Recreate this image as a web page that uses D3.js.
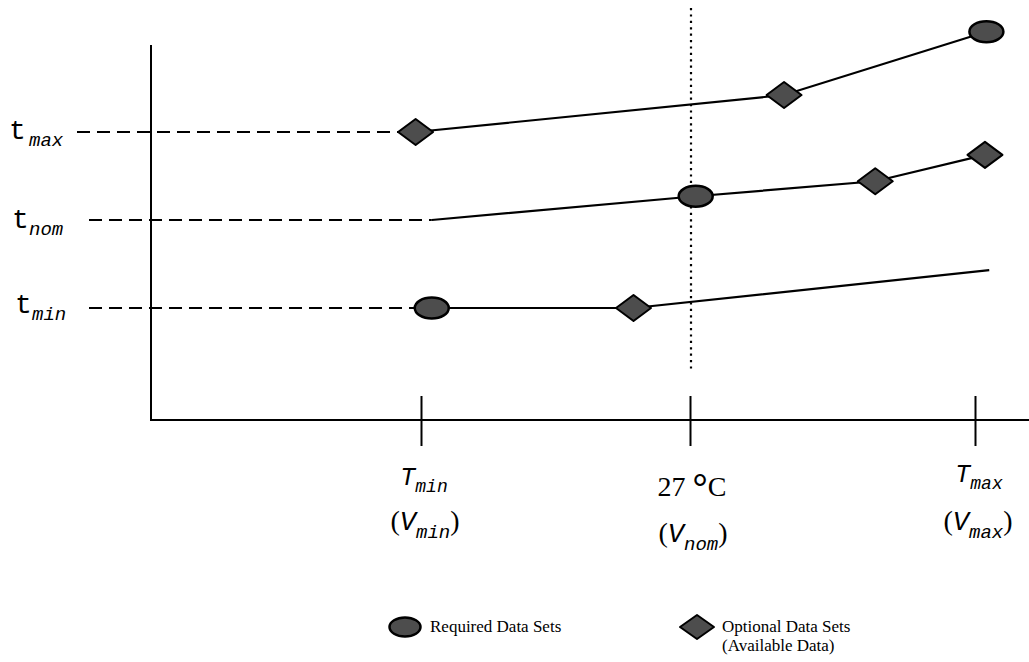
<!DOCTYPE html>
<html><head><meta charset="utf-8">
<script src="https://cdn.jsdelivr.net/npm/d3@7"></script>
<style>body{margin:0;background:#fff;}svg{display:block;}</style>
</head><body>
<svg id="c" width="1029" height="662"></svg>
<script>
// ---- data ----
const xTickValues = [0, 1, 2];            // Tmin, 27 °C, Tmax
const yLevelValues = [2, 1, 0];           // t_max, t_nom, t_min
const yLevelSubs = ["max", "nom", "min"];
const xTickMain = ["T", "27 °C", "T"];
const xTickSub = ["min", "", "max"];
const xTickSecond = ["min", "nom", "max"];

const topX = [-0.02, 1.33, 2.04];
const topY = [2, 2.42, 3.14];
const topMarks = ["diamond", "diamond", "ellipse"];

const midX = [0.04, 1.02, 1.65, 2.035];
const midY = [1, 1.27, 1.44, 1.74];
const midMarks = ["none", "ellipse", "diamond", "diamond"];

const lowX = [0.04, 0.79, 2.05];
const lowY = [0, 0, 0.43];
const lowMarks = ["ellipse", "diamond", "none"];

const legendLabels = ["Required Data Sets", "Optional Data Sets", "(Available Data)"];

// ---- scales ----
const x = d3.scaleLinear().domain([0, 1, 2]).range([421, 690, 975]);
const y = d3.scaleLinear().domain([0, 2]).range([308, 132]);

const svg = d3.select("#c");
const ink = "#000";
const markFill = "#4d4d4d";
const mono = "Liberation Mono, Courier New, monospace";
const serif = "Liberation Serif, Times New Roman, serif";

// axes frame
svg.append("line").attr("x1", 151).attr("x2", 151).attr("y1", 45).attr("y2", 421)
  .attr("stroke", ink).attr("stroke-width", 2);
svg.append("line").attr("x1", 150).attr("x2", 1029).attr("y1", 420).attr("y2", 420)
  .attr("stroke", ink).attr("stroke-width", 2);

// x ticks via axis
const xa = svg.append("g").attr("transform", "translate(0,420)")
  .call(d3.axisBottom(x).tickValues(xTickValues).tickSize(26).tickFormat(""));
xa.select(".domain").remove();
xa.selectAll(".tick line").attr("y1", -24).attr("stroke", ink).attr("stroke-width", 2);

// nominal temperature dotted line
svg.append("line").attr("x1", x(1)+1).attr("x2", x(1)+1).attr("y1", 8).attr("y2", 370)
  .attr("stroke", ink).attr("stroke-width", 2.2).attr("stroke-dasharray", "2.2,4.2");

// y level dashed lines + labels
const dashStart = [77, 89, 89];
const dashEnd = [x(topX[0]), x(midX[0]), x(lowX[0])];
const tX = [9, 12, 15];
const subX = [29, 29, 32];
const tDy = [7, 8, 5];
yLevelValues.forEach((v, i) => {
  svg.append("line").attr("x1", dashStart[i]).attr("x2", dashEnd[i])
    .attr("y1", y(v)).attr("y2", y(v))
    .attr("stroke", ink).attr("stroke-width", 2).attr("stroke-dasharray", "13,7");
  svg.append("text").attr("x", tX[i]).attr("y", y(v) + tDy[i])
    .attr("font-family", mono).attr("font-size", 28).attr("font-weight", 300)
    .attr("fill", ink).text("t");
  svg.append("text").attr("x", subX[i]).attr("y", y(v) + tDy[i] + 7)
    .attr("font-family", mono)
    .attr("font-style", "italic").attr("font-size", 19).attr("fill", ink).text(yLevelSubs[i]);
});

// x tick labels
xTickValues.forEach((v, i) => {
  const cx = x(v);
  if (xTickMain[i] === "T") {
    const g = svg.append("text").attr("x", cx + (i === 2 ? 4 : 3)).attr("y", i === 2 ? 482 : 485)
      .attr("text-anchor", "middle").attr("fill", ink)
      .attr("font-family", mono).attr("font-style", "italic");
    g.append("tspan").attr("font-size", 25).text("T");
    g.append("tspan").attr("font-size", 18).attr("dy", 7).text(xTickSub[i]);
  } else {
    const parts = xTickMain[i].split("°");
    const g = svg.append("text").attr("x", cx + 2).attr("y", 496).attr("text-anchor", "middle")
      .attr("font-family", serif).attr("font-size", 28).attr("fill", ink);
    g.append("tspan").text(parts[0]);
    g.append("tspan").attr("font-size", 38).attr("font-weight", "bold").attr("dy", 4).text("°");
    g.append("tspan").attr("dy", -4).text(parts[1]);
  }
  const py = [530, 542, 530][i];
  const t2 = svg.append("text").attr("x", cx + [4, 3, 3][i]).attr("y", py).attr("text-anchor", "middle")
    .attr("fill", ink).attr("font-family", mono);
  t2.append("tspan").attr("font-size", 28).attr("font-family", serif).text("(");
  t2.append("tspan").attr("font-size", 27).attr("font-style", "italic").text("V");
  t2.append("tspan").attr("font-size", 19).attr("font-style", "italic").attr("dy", 8).text(xTickSecond[i]);
  t2.append("tspan").attr("font-size", 28).attr("font-family", serif).attr("dy", -8).text(")");
});

// series
const line = d3.line().x(d => x(d[0])).y(d => y(d[1]));
const series = [[topX, topY, topMarks], [midX, midY, midMarks], [lowX, lowY, lowMarks]];
function drawMark(g, kind, cx, cy, rx, ry) {
  if (kind === "ellipse") {
    g.append("ellipse").attr("cx", cx).attr("cy", cy).attr("rx", rx).attr("ry", ry)
      .attr("fill", markFill).attr("stroke", ink).attr("stroke-width", 2.5);
  } else if (kind === "diamond") {
    g.append("path").attr("d", `M${cx-rx},${cy}L${cx},${cy-ry}L${cx+rx},${cy}L${cx},${cy+ry}Z`)
      .attr("fill", markFill).attr("stroke", ink).attr("stroke-width", 2).attr("stroke-linejoin", "round");
  }
}
series.forEach(([xs, ys, ms]) => {
  const pts = xs.map((v, i) => [v, ys[i]]);
  svg.append("path").attr("d", line(pts)).attr("fill", "none").attr("stroke", ink).attr("stroke-width", 2.2);
});
series.forEach(([xs, ys, ms]) => {
  xs.forEach((v, i) => {
    if (ms[i] === "ellipse") drawMark(svg, "ellipse", x(v), y(ys[i]), 17, 10.5);
    else if (ms[i] === "diamond") drawMark(svg, "diamond", x(v), y(ys[i]), 17.5, 13);
  });
});

// legend
drawMark(svg, "ellipse", 405, 627, 15.5, 9.5);
drawMark(svg, "diamond", 697, 627, 17, 12);
svg.append("text").attr("x", 430).attr("y", 632).attr("font-family", serif).attr("font-size", 17).attr("fill", ink).text(legendLabels[0]);
svg.append("text").attr("x", 722).attr("y", 632).attr("font-family", serif).attr("font-size", 17).attr("fill", ink).text(legendLabels[1]);
svg.append("text").attr("x", 722).attr("y", 651).attr("font-family", serif).attr("font-size", 17).attr("fill", ink).text(legendLabels[2]);
</script>
</body></html>
